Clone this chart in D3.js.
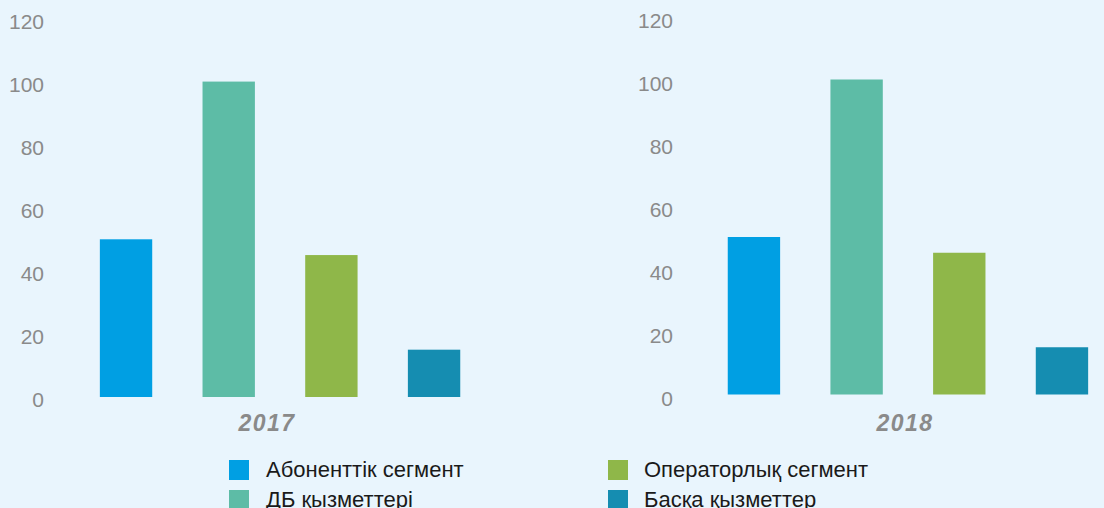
<!DOCTYPE html>
<html>
<head>
<meta charset="utf-8">
<script src="https://cdn.jsdelivr.net/npm/d3@7"></script>
<style>
  html, body { margin: 0; padding: 0; background: #e9f5fd; }
  svg { display: block; }
</style>
</head>
<body>
<script>
var categories = ["Абоненттік сегмент", "ДБ қызметтері", "Операторлық сегмент", "Басқа қызметтер"];
var colors = ["#009fe3", "#5dbca6", "#8fb749", "#158db1"];
var years = ["2017", "2018"];
var values2017 = [50, 100, 45, 15];
var values2018 = [50, 100, 45, 15];
var yTicks = [0, 20, 40, 60, 80, 100, 120];

var W = 1104, H = 508;
var svg = d3.select("body").append("svg").attr("width", W).attr("height", H);

svg.append("rect").attr("width", W).attr("height", H).attr("fill", "#e9f5fd");

// each panel: own axis position, plot range and year label spot
var panels = [
  {year: years[0], values: values2017, axisX: 47, x0: 74.7, x1: 485.4, y0: 397, y1: 18.5, labelDy: 3, yearX: 267},
  {year: years[1], values: values2018, axisX: 676, x0: 702.6, x1: 1113.3, y0: 394.5, y1: 16.5, labelDy: 3.8, yearX: 905}
];

panels.forEach(function(p) {
  var g = svg.append("g");

  var x = d3.scaleBand()
    .domain(categories)
    .range([p.x0, p.x1])
    .paddingInner(0.49)
    .paddingOuter(0.245);

  var y = d3.scaleLinear().domain([0, 120]).range([p.y0, p.y1]);

  var axis = g.append("g")
    .attr("transform", "translate(" + p.axisX + ",0)")
    .call(d3.axisLeft(y).tickValues(yTicks).tickSize(0).tickPadding(3));
  axis.select(".domain").remove();
  axis.selectAll("text")
    .attr("dy", (0.32 * 21 + p.labelDy) + "px")
    .attr("fill", "#8a8a8a")
    .style("font-family", "'Liberation Sans', Arial, sans-serif")
    .style("font-size", "21px");

  g.selectAll("rect.bar")
    .data(p.values)
    .enter().append("rect")
    .attr("class", "bar")
    .attr("x", function(d, i) { return x(categories[i]); })
    .attr("width", x.bandwidth())
    .attr("y", function(d) { return y(d); })
    .attr("height", function(d) { return y(0) - y(d); })
    .attr("fill", function(d, i) { return colors[i]; });

  g.append("text")
    .attr("x", p.yearX)
    .attr("y", 431)
    .attr("text-anchor", "middle")
    .attr("fill", "#8a8a8a")
    .style("font-family", "'Liberation Sans', Arial, sans-serif")
    .style("font-size", "23px")
    .style("font-weight", "bold")
    .style("font-style", "italic")
    .style("letter-spacing", "1.5px")
    .text(p.year);
});

// legend, two columns, two rows
var legendPos = [
  {x: 229, y: 460},
  {x: 229, y: 490},
  {x: 608, y: 460},
  {x: 608, y: 490}
];

var legend = svg.append("g").selectAll("g")
  .data(categories)
  .enter().append("g")
  .attr("transform", function(d, i) { return "translate(" + legendPos[i].x + "," + legendPos[i].y + ")"; });

legend.append("rect")
  .attr("width", 20)
  .attr("height", 20)
  .attr("fill", function(d, i) { return colors[i]; });

legend.append("text")
  .attr("x", function(d, i) { return i < 2 ? 37 : 36; })
  .attr("y", 17)
  .attr("fill", "#1a1a1a")
  .style("font-family", "'Liberation Sans', Arial, sans-serif")
  .style("font-size", "22px")
  .text(function(d) { return d; });
</script>
</body>
</html>
